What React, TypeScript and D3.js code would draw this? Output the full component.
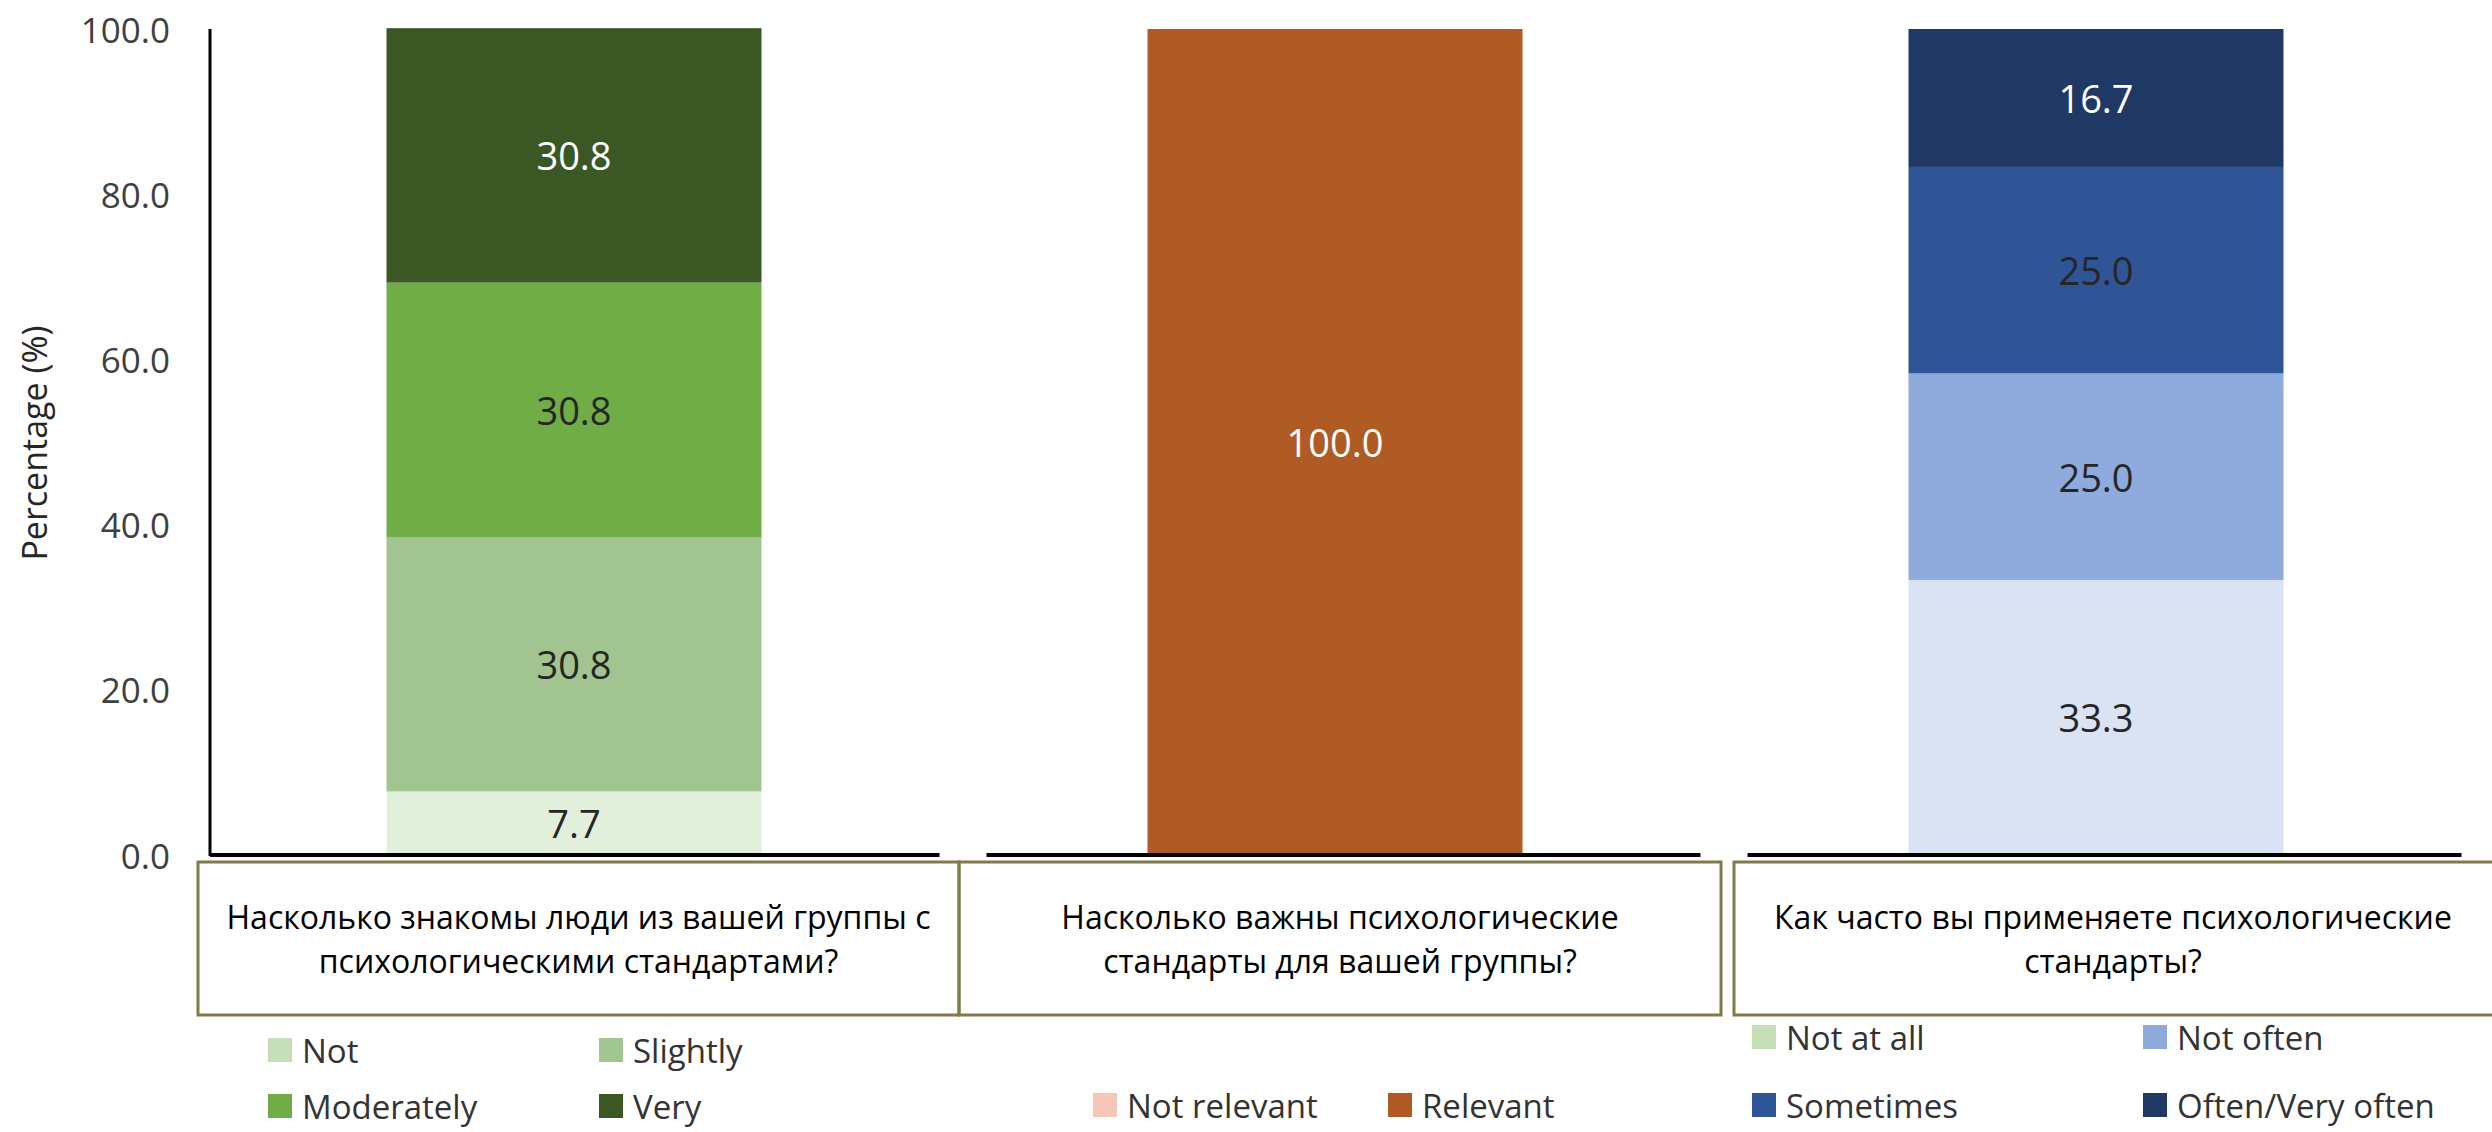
import React from 'react';
import * as d3 from 'd3';

// questions (category labels, split into the two lines shown in each box)
const questions = [
  ['Насколько знакомы люди из вашей группы с', 'психологическими стандартами?'],
  ['Насколько важны психологические', 'стандарты для вашей группы?'],
  ['Как часто вы применяете психологические', 'стандарты?'],
];

// series per question, bottom to top
const familiarLevels = ['Not', 'Slightly', 'Moderately', 'Very'];
const familiarValues = [7.7, 30.8, 30.8, 30.8];

const importanceLevels = ['Not relevant', 'Relevant'];
const importanceValues = [0, 100];

const frequencyLevels = ['Not at all', 'Not often', 'Sometimes', 'Often/Very often'];
const frequencyValues = [33.3, 25.0, 25.0, 16.7];

const yTicks = [0, 20, 40, 60, 80, 100];

// styles
const familiarColors = ['#e2efda', '#a2c490', '#70ad47', '#3a5724'];
const familiarSwatches = ['#c5ddb9', '#a2c490', '#70ad47', '#3a5724'];
const importanceColors = ['#f4c7b6', '#b05b23'];
const frequencyColors = ['#dae3f3', '#8faadc', '#2f5597', '#203864'];
const frequencySwatches = ['#c5e0b4', '#8faadc', '#2f5597', '#203864'];
const darkFill = new Set(['#3a5724', '#b05b23', '#203864']);

const W = 2492;
const H = 1132;
const plotTop = 29;
const plotBottom = 855;
const axisX = 210;
const numFont = '"Open Sans", sans-serif';
const textFont = '"Open Sans", sans-serif';

const panels = [
  {
    levels: familiarLevels,
    values: familiarValues,
    colors: familiarColors,
    swatches: familiarSwatches,
    legend: { cols: [268, 599], rows: [1050, 1106] },
    box: [198, 959],
  },
  {
    levels: importanceLevels,
    values: importanceValues,
    colors: importanceColors,
    swatches: importanceColors,
    legend: { cols: [1093, 1388], rows: [1105] },
    box: [959, 1721],
  },
  {
    levels: frequencyLevels,
    values: frequencyValues,
    colors: frequencyColors,
    swatches: frequencySwatches,
    legend: { cols: [1752, 2143], rows: [1037, 1105] },
    box: [1734, 2500],
  },
];

export default function App() {
  const y = d3.scaleLinear().domain([0, 100]).range([plotBottom, plotTop]);
  const x = d3
    .scaleBand<number>()
    .domain(questions.map((_, i) => i))
    .range([193.5, 2476.5])
    .padding(0);
  const step = x.step();
  const barW = 375;

  return (
    <div style={{ position: 'absolute', left: 0, top: 0 }}>
      <svg width={W} height={H} style={{ display: 'block', background: '#fff' }}>
        {/* y axis */}
        <line x1={axisX} x2={axisX} y1={plotTop} y2={plotBottom + 1} stroke="#000" strokeWidth={3} />
        {yTicks.map((t) => (
          <text
            key={t}
            x={170}
            y={y(t)}
            textAnchor="end"
            dominantBaseline="central"
            fontFamily={numFont}
            fontSize={35}
            fill="#404040"
          >
            {t.toFixed(1)}
          </text>
        ))}
        <text
          transform={`translate(47,${443}) rotate(-90)`}
          textAnchor="middle"
          fontFamily={numFont}
          fontSize={34}
          fill="#262626"
        >
          Percentage (%)
        </text>

        {panels.map((p, pi) => {
          const bx = (x(pi) ?? 0) + (step - barW) / 2;
          const cum = [0, ...d3.cumsum(p.values)];
          const lineStart = pi === 0 ? axisX : (x(pi) ?? 0) + 32;
          const lineEnd = (x(pi) ?? 0) + step - 15;
          const [b0, b1] = p.box;
          return (
            <g key={pi}>
              {p.values.map((v, i) => (
                <rect
                  key={i}
                  x={bx}
                  y={y(cum[i + 1])}
                  width={barW}
                  height={y(cum[i]) - y(cum[i + 1])}
                  fill={p.colors[i]}
                />
              ))}
              {p.values.map((v, i) =>
                v > 0 ? (
                  <text
                    key={'l' + i}
                    x={bx + barW / 2}
                    y={y(cum[i] + v / 2)}
                    textAnchor="middle"
                    dominantBaseline="central"
                    fontFamily={numFont}
                    fontSize={38}
                    fill={darkFill.has(p.colors[i]) ? '#ffffff' : '#262626'}
                  >
                    {v.toFixed(1)}
                  </text>
                ) : null
              )}
              <line x1={lineStart} x2={lineEnd} y1={plotBottom} y2={plotBottom} stroke="#000" strokeWidth={4} />
              <rect x={b0} y={862} width={b1 - b0} height={153} fill="none" stroke="#7f7a48" strokeWidth={3} />
              {questions[pi].map((line, li) => (
                <text
                  key={'q' + li}
                  x={(b0 + Math.min(b1, W)) / 2}
                  y={929 + li * 44}
                  textAnchor="middle"
                  fontFamily={textFont}
                  fontSize={32}
                  fill="#000"
                >
                  {line}
                </text>
              ))}
              {p.levels.map((lv, i) => {
                const col = p.legend.cols[i % p.legend.cols.length];
                const row = p.legend.rows[Math.floor(i / p.legend.cols.length)];
                return (
                  <g key={'lg' + i} transform={`translate(${col},${row})`}>
                    <rect x={0} y={-12} width={24} height={24} fill={p.swatches[i]} />
                    <text
                      x={34}
                      y={0}
                      dominantBaseline="central"
                      fontFamily={textFont}
                      fontSize={33}
                      fill="#333"
                    >
                      {lv}
                    </text>
                  </g>
                );
              })}
            </g>
          );
        })}
      </svg>
    </div>
  );
}
